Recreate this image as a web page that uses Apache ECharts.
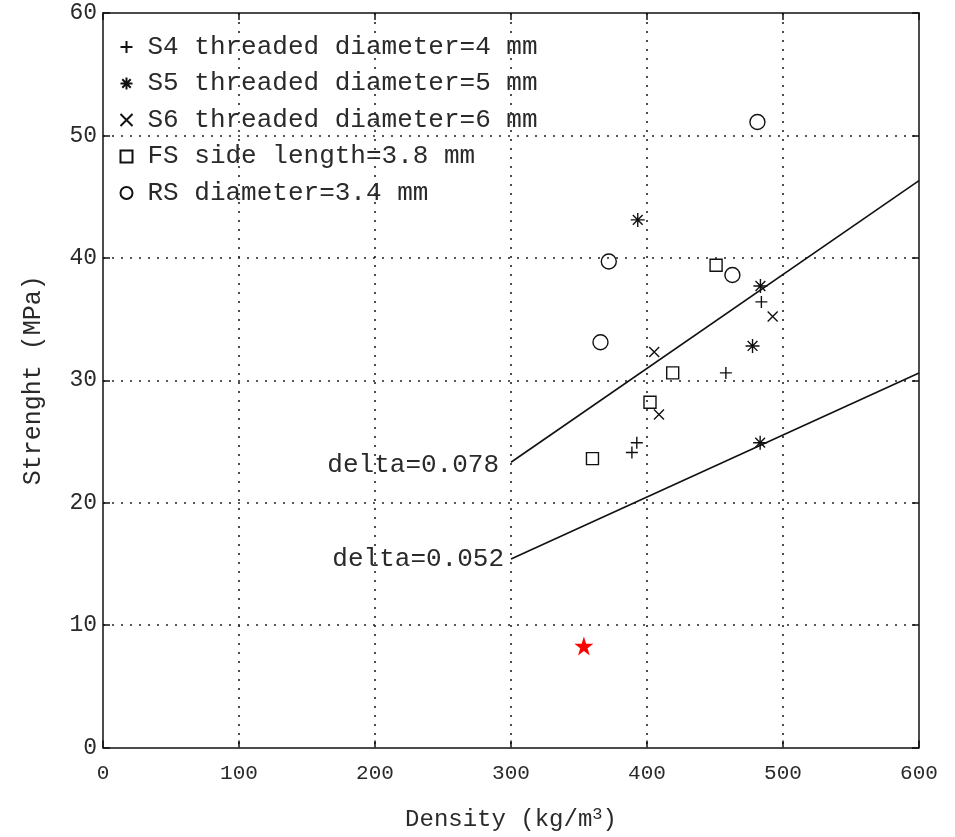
<!DOCTYPE html>
<html><head><meta charset="utf-8">
<script src="https://cdn.jsdelivr.net/npm/echarts@6/dist/echarts.min.js"></script>
<style>html,body{margin:0;padding:0;background:#fff}#c{width:955px;height:837px}</style>
</head><body><div id="c"></div>
<script>
const xTicks = [0, 100, 200, 300, 400, 500, 600];
const yTicks = [0, 10, 20, 30, 40, 50, 60];
const s4 = [[484.1,36.4],[458.0,30.6],[392.5,24.9],[388.9,24.1]];
const s5 = [[393.2,43.1],[483.4,37.7],[477.6,32.8],[483.2,24.9]];
const s6 = [[492.4,35.2],[405.3,32.3],[408.8,27.2]];
const fs = [[450.8,39.4],[418.9,30.6],[402.2,28.2],[359.9,23.6]];
const rs = [[481.2,51.1],[371.9,39.7],[462.8,38.6],[365.8,33.1]];
const star = [[353.6,8.3]];
const line078 = [[300,23.3],[600,46.3]];
const line052 = [[300,15.4],[600,30.6]];
const names = ['S4 threaded diameter=4 mm','S5 threaded diameter=5 mm','S6 threaded diameter=6 mm','FS side length=3.8 mm','RS diameter=3.4 mm'];

const FONT = 'Liberation Mono';
const TXT = '#2a2a2a';
const PLUS = 'path://M5,0L5,10M0,5L10,5';
const AST = 'path://M5,0L5,10M0,5L10,5M1.5,1.5L8.5,8.5M8.5,1.5L1.5,8.5';
const CROSS = 'path://M0,0L10,10M10,0L0,10';
const STAR = 'path://M50,0L61.8,36.2L100,36.2L69.1,58.8L80.9,95.1L50,72.7L19.1,95.1L30.9,58.8L0,36.2L38.2,36.2Z';

const hollow = {color:'none', borderColor:'#111', borderWidth:1.4, opacity:1};
function sc(name, data, symbol, size){
  return {type:'scatter', name, data, symbol, symbolSize:size, itemStyle:hollow, z:5};
}
const chart = echarts.init(document.getElementById('c'));
function axisBase(){
  return {
    min:0, axisLine:{show:true, onZero:false, lineStyle:{color:'#111',width:1.5}},
    axisTick:{show:true,inside:true,length:7,lineStyle:{color:'#111',width:1.5}},
  };
}
const split = {show:true, showMinLine:false, showMaxLine:false, lineStyle:{color:'#222', type:[2,7], width:1.6}};
chart.setOption({
  backgroundColor:'#fff',
  animation:false,
  grid:{left:103, right:36, top:13, bottom:88, show:false},
  legend:{
    orient:'vertical', left:113, top:29, itemWidth:12, itemHeight:12, itemGap:10.5,
    data:names.map(n=>({name:n})),
    textStyle:{fontFamily:FONT, fontSize:26, color:TXT, lineHeight:26, padding:[0,0,0,10]},
    selectedMode:false
  },
  xAxis:[
    Object.assign(axisBase(), {type:'value', max:600, interval:100, position:'bottom',
      axisLabel:{fontFamily:FONT, fontSize:21, color:TXT, margin:15},
      splitLine:split,
      name:'Density (kg/m{sup|3})', nameLocation:'middle', nameGap:58,
      nameTextStyle:{fontFamily:FONT, fontSize:24, color:TXT,
        rich:{sup:{fontFamily:FONT, fontSize:17, color:TXT, verticalAlign:'top', padding:[0,0,12,0]}}}}),
    Object.assign(axisBase(), {type:'value', max:600, interval:100, position:'top',
      axisLabel:{show:false}, splitLine:{show:false}})
  ],
  yAxis:[
    Object.assign(axisBase(), {type:'value', max:60, interval:10, position:'left',
      axisLabel:{fontFamily:FONT, fontSize:23, color:TXT, margin:6},
      splitLine:split,
      name:'Strenght (MPa)', nameLocation:'middle', nameGap:57,
      nameTextStyle:{fontFamily:FONT, fontSize:25, color:TXT}}),
    Object.assign(axisBase(), {type:'value', max:60, interval:10, position:'right',
      axisLabel:{show:false}, splitLine:{show:false}})
  ],
  series:[
    sc(names[0], s4, PLUS, 12),
    sc(names[1], s5, AST, 14),
    sc(names[2], s6, CROSS, 10),
    sc(names[3], fs, 'rect', 12),
    sc(names[4], rs, 'circle', 15),
    {type:'scatter', name:'star', data:star, symbol:STAR, symbolSize:19, itemStyle:{color:'#ff0000', opacity:1}, z:6},
    {type:'line', name:'l078', data:line078, showSymbol:false, symbol:'none', lineStyle:{color:'#111', width:1.6}, z:4},
    {type:'line', name:'l052', data:line052, showSymbol:false, symbol:'none', lineStyle:{color:'#111', width:1.6}, z:4},
    {type:'scatter', name:'lbl078', data:[line078[0]], symbolSize:0, silent:true, itemStyle:{opacity:1},
      label:{show:true, position:'left', distance:12, offset:[0,3], formatter:'delta=0.078', fontFamily:FONT, fontSize:26, color:TXT, opacity:1}},
    {type:'scatter', name:'lbl052', data:[line052[0]], symbolSize:0, silent:true, itemStyle:{opacity:1},
      label:{show:true, position:'left', distance:7, offset:[0,0], formatter:'delta=0.052', fontFamily:FONT, fontSize:26, color:TXT, opacity:1}}
  ]
});
</script></body></html>
